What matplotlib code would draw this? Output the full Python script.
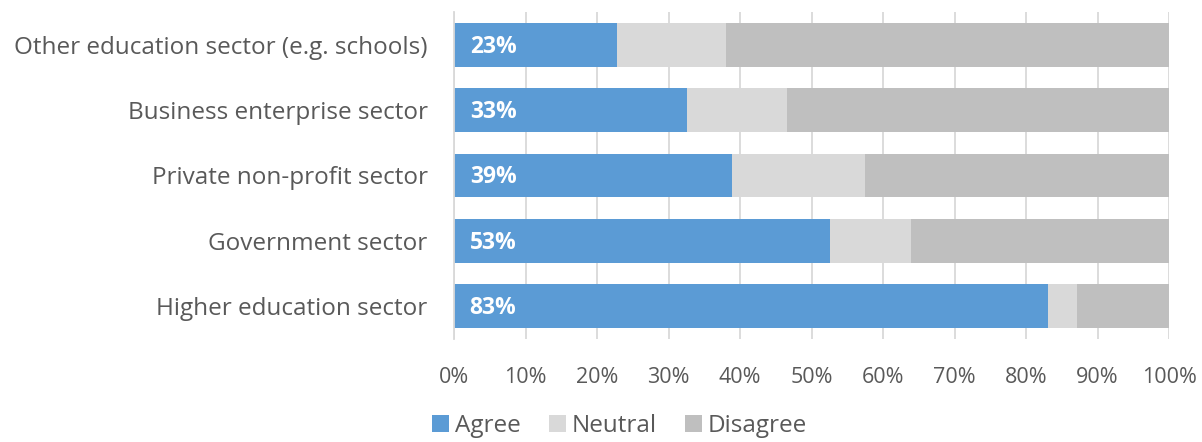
import matplotlib.pyplot as plt
import numpy as np

plt.rcParams['font.family'] = ['Open Sans', 'DejaVu Sans']

sectors = ["Higher education sector", "Government sector", "Private non-profit sector",
           "Business enterprise sector", "Other education sector (e.g. schools)"]
agree = [83.1, 52.6, 38.9, 32.6, 22.8]
neutral = [4.1, 11.3, 18.6, 14.0, 15.3]
disagree = [12.8, 36.1, 42.5, 53.4, 61.9]
xticks = [0, 10, 20, 30, 40, 50, 60, 70, 80, 90, 100]

c_agree = "#5B9BD5"
c_neutral = "#D9D9D9"
c_disagree = "#BFBFBF"
text_grey = "#595959"

fig = plt.figure(figsize=(12.02, 4.42), dpi=100)
ax = fig.add_axes([454 / 1202, 1 - 339 / 442, 715 / 1202, 327 / 442])

y = np.arange(len(sectors))
h = 0.67
ax.barh(y, agree, height=h, color=c_agree, label="Agree", zorder=2)
ax.barh(y, neutral, left=agree, height=h, color=c_neutral, label="Neutral", zorder=2)
left2 = np.array(agree) + np.array(neutral)
ax.barh(y, disagree, left=left2, height=h, color=c_disagree, label="Disagree", zorder=2)

for yi, v in zip(y, agree):
    ax.text(2.2, yi - 0.03, f"{v:.0f}%", color="white", fontweight="bold",
            fontsize=16.5, va="center", ha="left", zorder=3)

ax.set_xlim(0, 100)
ax.set_ylim(-0.5, len(sectors) - 0.5)
ax.set_xticks(xticks)
ax.set_xticklabels([f"{t}%" for t in xticks])
ax.set_yticks(y)
ax.set_yticklabels(sectors)
ax.tick_params(axis="x", length=0, pad=20, labelsize=15.5, labelcolor=text_grey)
ax.tick_params(axis="y", length=0, pad=19, labelsize=17.5, labelcolor=text_grey)
ax.grid(axis="x", color="#D9D9D9", linewidth=1.3, zorder=0)
for s in ["top", "right", "bottom"]:
    ax.spines[s].set_visible(False)
ax.spines["left"].set_color("#D9D9D9")
ax.spines["left"].set_linewidth(1.3)

leg = fig.legend(loc="lower left", bbox_to_anchor=(410 / 1202, -0.04), ncol=3,
                 frameon=False, fontsize=17.5, handlelength=0.7, handleheight=0.7,
                 handletextpad=0.25, columnspacing=1.15)
for t in leg.get_texts():
    t.set_color(text_grey)

fig.savefig("out.png", dpi=100)
